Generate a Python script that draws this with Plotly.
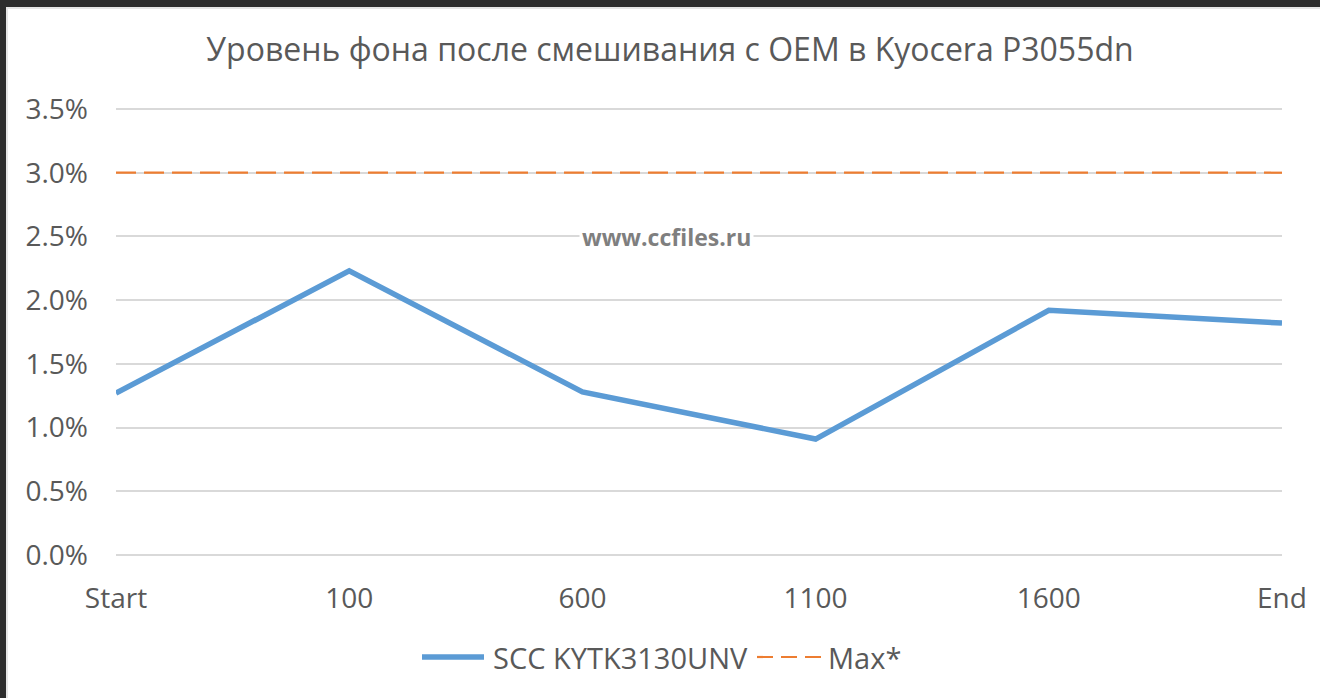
import plotly.graph_objects as go

categories = ["Start", "100", "600", "1100", "1600", "End"]
scc_values = [1.27, 2.23, 1.28, 0.91, 1.92, 1.82]
max_values = [3.0, 3.0, 3.0, 3.0, 3.0, 3.0]
series_names = ["SCC KYTK3130UNV", "Max*"]
y_tick_vals = [0, 0.5, 1.0, 1.5, 2.0, 2.5, 3.0, 3.5]
y_tick_text = ["0.0%", "0.5%", "1.0%", "1.5%", "2.0%", "2.5%", "3.0%", "3.5%"]
title_text = "Уровень фона после смешивания с OEM в Kyocera P3055dn"
watermark = "www.ccfiles.ru"

W, H = 1320, 698
ML, MR, MT, MB = 116, 38, 99, 133
PW, PH = W - ML - MR, H - MT - MB
FONT = "Open Sans"
GRAY = "#595959"
BLUE = "#5B9BD5"
ORANGE = "#ED7D31"

# y scale: 0% at px 555, 3.5% at px 109
y0_px, y35_px = 555, 109
per_unit = (y0_px - y35_px) / 3.5
y_top = 3.5 + (y35_px - MT) / per_unit
y_bot = -((H - MB) - y0_px) / per_unit


def px(xp):
    return (xp - ML) / PW


def py(yp):
    return (H - MB - yp) / PH


fig = go.Figure()
fig.add_trace(go.Scatter(x=categories, y=scc_values, mode="lines", name=series_names[0],
                         line=dict(color=BLUE, width=5.5), showlegend=False))
fig.add_trace(go.Scatter(x=categories, y=max_values, mode="lines", name=series_names[1],
                         line=dict(color=ORANGE, width=2.2, dash="20px,8px"), showlegend=False))

shapes = [
    # dark frame top and left
    dict(type="rect", xref="paper", yref="paper", x0=px(0), x1=px(W), y0=py(0), y1=py(7),
         fillcolor="#2d2d2d", line=dict(width=0), layer="below"),
    dict(type="rect", xref="paper", yref="paper", x0=px(0), x1=px(6), y0=py(0), y1=py(H),
         fillcolor="#2d2d2d", line=dict(width=0), layer="below"),
    dict(type="line", xref="paper", yref="paper", x0=px(6), x1=px(W), y0=py(8), y1=py(8),
         line=dict(color="#e6e6e6", width=2), layer="below"),
    dict(type="line", xref="paper", yref="paper", x0=px(7), x1=px(7), y0=py(8), y1=py(H),
         line=dict(color="#e6e6e6", width=2), layer="below"),
    # custom legend symbols
    dict(type="line", xref="paper", yref="paper", x0=px(422), x1=px(484), y0=py(657), y1=py(657),
         line=dict(color=BLUE, width=5.5)),
    dict(type="line", xref="paper", yref="paper", x0=px(757), x1=px(821), y0=py(657), y1=py(657),
         line=dict(color=ORANGE, width=2.2, dash="16px,8px")),
]

annotations = [
    dict(text=watermark, xref="paper", yref="paper", x=px(666), y=py(237), showarrow=False,
         font=dict(family=FONT, size=23, color="#7f7f7f", weight="bold"),
         bgcolor="white", borderpad=2, xanchor="center", yanchor="middle"),
    dict(text=series_names[0], xref="paper", yref="paper", x=px(491), y=py(657), showarrow=False,
         font=dict(family=FONT, size=29, color=GRAY), xanchor="left", yanchor="middle"),
    dict(text=series_names[1], xref="paper", yref="paper", x=px(826), y=py(657), showarrow=False,
         font=dict(family=FONT, size=29, color=GRAY), xanchor="left", yanchor="middle"),
]

fig.update_layout(
    width=W, height=H,
    margin=dict(l=ML, r=MR, t=MT, b=MB, autoexpand=False),
    paper_bgcolor="white", plot_bgcolor="white",
    title=dict(text=title_text, x=670 / W, xanchor="center", y=1 - 50 / H, yanchor="middle",
               xref="container", yref="container",
               font=dict(family=FONT, size=32, color=GRAY)),
    showlegend=False,
    shapes=shapes,
    annotations=annotations,
    xaxis=dict(type="category", range=[0, 5], showgrid=False, zeroline=False, showline=False,
               ticks="", tickfont=dict(family=FONT, size=28, color=GRAY), ticklabelstandoff=14),
    yaxis=dict(range=[y_bot, y_top], tickvals=y_tick_vals, ticktext=y_tick_text,
               showgrid=True, gridcolor="#d9d9d9", gridwidth=2, zeroline=False, showline=False,
               ticks="", tickfont=dict(family=FONT, size=28, color=GRAY), ticklabelstandoff=27),
)

fig.write_html("out.html", config={"displayModeBar": False},
               post_script="document.body.style.margin='0';document.body.style.overflow='hidden';")
